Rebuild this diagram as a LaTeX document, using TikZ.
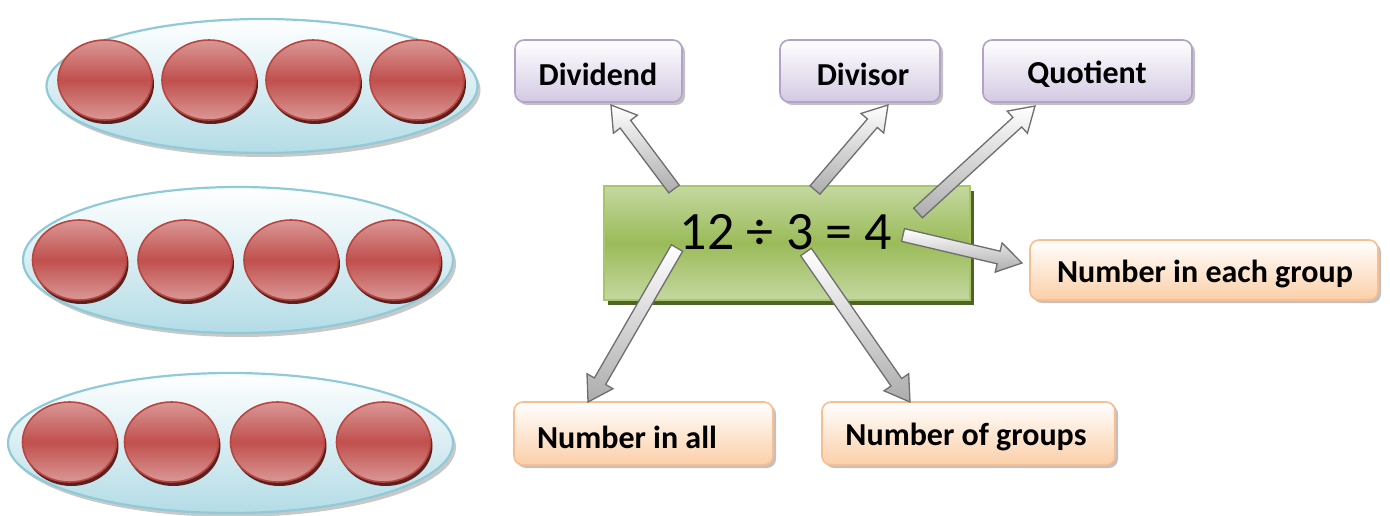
\documentclass[tikz,border=0pt]{standalone}
\usepackage{fontspec}
\setmainfont{Carlito}
\usetikzlibrary{shapes.geometric,calc,shadows}
\definecolor{ellline}{HTML}{8FCAD8}
\definecolor{ellfill}{HTML}{B3DCE6}
\definecolor{redlt}{HTML}{DA9896}
\definecolor{redmid}{HTML}{C0504D}
\definecolor{redline}{HTML}{B8453F}
\definecolor{redshadow}{HTML}{5C201E}
\definecolor{grnlt}{HTML}{C4D8A0}
\definecolor{grnmid}{HTML}{9BBB59}
\definecolor{grnline}{HTML}{A8C56A}
\definecolor{grnshadow}{HTML}{4F6228}
\definecolor{purline}{HTML}{B3A2C7}
\definecolor{purfill}{HTML}{D3C9E2}
\definecolor{orline}{HTML}{F9BE8F}
\definecolor{orfill}{HTML}{FBCFA8}
\definecolor{arrline}{HTML}{6E6E6E}
\tikzset{
  group/.style={ellipse, inner sep=0pt, draw=ellline, line width=2.2pt,
    top color=white, bottom color=ellfill,
    drop shadow={shadow xshift=3pt, shadow yshift=-4pt, fill=gray!60, opacity=0.7}},
  counter/.style={ellipse, inner sep=0pt, minimum width=94pt, minimum height=80pt,
    draw=redline, line width=1.6pt,
    top color=redlt, bottom color=redlt, middle color=redmid,
    drop shadow={shadow xshift=2pt, shadow yshift=-4pt, fill=redshadow, opacity=1}},
  eqbox/.style={rectangle, inner sep=0pt, draw=grnline, line width=2pt,
    top color=grnlt, bottom color=grnlt, middle color=grnmid,
    drop shadow={shadow xshift=4pt, shadow yshift=-5pt, fill=grnshadow, opacity=1}},
  purbox/.style={rectangle, rounded corners=9pt, inner sep=0pt, draw=purline, line width=1.6pt,
    top color=white, bottom color=purfill, minimum height=62pt,
    drop shadow={shadow xshift=3pt, shadow yshift=-3pt, fill=gray!60, opacity=0.8}},
  orbox/.style={rectangle, rounded corners=9pt, inner sep=0pt, draw=orline, line width=1.6pt,
    top color=white, bottom color=orfill, minimum height=62pt,
    drop shadow={shadow xshift=3pt, shadow yshift=-3pt, fill=gray!60, opacity=0.8}},
  lbl/.style={font=\fontsize{32}{38}\selectfont\bfseries, inner sep=0pt, anchor=center},
  blockarrow/.style={draw=arrline, line width=1.3pt, line join=miter,
    top color=white, bottom color=gray!65}
}
\newcommand\blockarr[2]{%
  \path[blockarrow]
    ($(#1)!6.5pt!90:(#2)$) --
    ($($(#2)!24pt!(#1)$)!6.5pt!-90:(#1)$) --
    ($($(#2)!24pt!(#1)$)!15pt!-90:(#1)$) --
    (#2) --
    ($($(#2)!24pt!(#1)$)!15pt!90:(#1)$) --
    ($($(#2)!24pt!(#1)$)!6.5pt!90:(#1)$) --
    ($(#1)!6.5pt!-90:(#2)$) -- cycle;
}
\begin{document}
\begin{tikzpicture}[x=1pt,y=-1pt]
\useasboundingbox[fill=white] (0,0) rectangle (1390,516);
% groups
\node[group, minimum width=431pt, minimum height=134pt] (g1) at (262,86) {};
\node[group, minimum width=430pt, minimum height=146pt] (g2) at (238,260) {};
\node[group, minimum width=445pt, minimum height=140pt] (g3) at (230.5,443) {};
\foreach \x [count=\i] in {105,209,313,417}
  \node[counter] (a\i) at (\x,80) {};
\foreach \x [count=\i] in {79.5,185,291,393.5}
  \node[counter] (b\i) at (\x,260) {};
\foreach \x [count=\i] in {69.5,171.5,277.5,383.5}
  \node[counter] (c\i) at (\x,442) {};
% label boxes
\node[purbox, minimum width=167pt] (dividend) at (598.5,71) {};
\node[lbl] (tdividend) at (598,74) {Dividend};
\node[purbox, minimum width=160pt] (divisor) at (860,71) {};
\node[lbl] (tdivisor) at (863,74) {Divisor};
\node[purbox, minimum width=209pt] (quotient) at (1087.5,71) {};
\node[lbl] (tquotient) at (1087,74) {Quotient};
\node[orbox, minimum width=348pt, minimum height=60pt] (each) at (1204,270) {};
\node[lbl] (teach) at (1205,274) {Number in each group};
\node[orbox, minimum width=259pt, minimum height=63pt] (all) at (643.5,433.5) {};
\node[lbl] (tall) at (627,437) {Number in all};
\node[orbox, minimum width=293pt, minimum height=63pt] (ngroups) at (968.5,433.5) {};
\node[lbl] (tngroups) at (966,437) {Number of groups};
% equation box
\node[eqbox, minimum width=366pt, minimum height=114pt] (eq) at (787,243) {};
\node[inner sep=0pt, font=\fontsize{54}{62}\selectfont] (teq) at (786,232) {12 ÷ 3 = 4};
% arrow endpoints
\coordinate (s1) at (674,189);  \coordinate (e1) at (611,105);
\coordinate (s2) at (815,190);  \coordinate (e2) at (888,105);
\coordinate (s3) at (918,213);  \coordinate (e3) at (1035,106);
\coordinate (s4) at (903,235);  \coordinate (e4) at (1022,263);
\coordinate (s5) at (677,248);  \coordinate (e5) at (588,402);
\coordinate (s6) at (806,252);  \coordinate (e6) at (910,402);
\blockarr{s1}{e1}
\blockarr{s2}{e2}
\blockarr{s3}{e3}
\blockarr{s4}{e4}
\blockarr{s5}{e5}
\blockarr{s6}{e6}
\end{tikzpicture}
\end{document}
